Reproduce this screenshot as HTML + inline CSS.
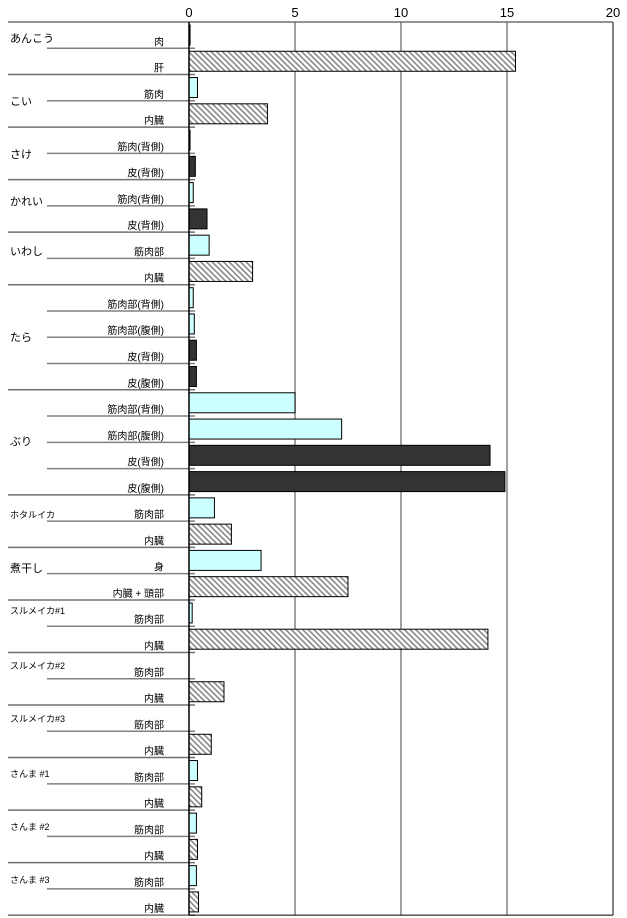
<!DOCTYPE html>
<html><head><meta charset="utf-8">
<style>
html,body{margin:0;padding:0;background:#fff;}
svg{display:block;font-family:"Liberation Sans","Noto Sans CJK JP",sans-serif;}
</style></head>
<body>
<svg id="chart" width="627" height="918" viewBox="0 0 627 918">
<defs>
<pattern id="hatch" patternUnits="userSpaceOnUse" width="4" height="4" patternTransform="rotate(-45)">
<rect width="4" height="4" fill="#fff"/>
<rect width="1.6" height="4" fill="#888"/>
</pattern>
</defs>
</svg>
<script>
const groupNames = ["あんこう","こい","さけ","かれい","いわし","たら","ぶり","ホタルイカ","煮干し","スルメイカ#1","スルメイカ#2","スルメイカ#3","さんま #1","さんま #2","さんま #3"];
const groupSizes = [2,2,2,2,2,4,4,2,2,2,2,2,2,2,2];
const groupLabelY = [38,101,154,201,251,337,441,514,568,610,665,718,773,826,879];
const itemLabels = ["肉","肝","筋肉","内臓","筋肉(背側)","皮(背側)","筋肉(背側)","皮(背側)","筋肉部","内臓","筋肉部(背側)","筋肉部(腹側)","皮(背側)","皮(腹側)","筋肉部(背側)","筋肉部(腹側)","皮(背側)","皮(腹側)","筋肉部","内臓","身","内臓 + 頭部","筋肉部","内臓","筋肉部","内臓","筋肉部","内臓","筋肉部","内臓","筋肉部","内臓","筋肉部","内臓"];
const itemTypes = ["m","v","m","v","m","s","m","s","m","v","m","m","s","s","m","m","s","s","m","v","m","v","m","v","m","v","m","v","m","v","m","v","m","v"];
const values = [0.05,15.4,0.4,3.7,0.05,0.3,0.2,0.85,0.95,3.0,0.2,0.25,0.35,0.35,5.0,7.2,14.2,14.9,1.2,2.0,3.4,7.5,0.15,14.1,0,1.65,0,1.05,0.4,0.6,0.35,0.4,0.35,0.45];
const xTicks = [0,5,10,15,20];

const svg = document.getElementById('chart');
const NS = 'http://www.w3.org/2000/svg';
const X0 = 189, X1 = 613, Y0 = 22, ROW = 26.27;
const xScale = v => X0 + (X1 - X0) * v / 20;
const rowTop = i => Y0 + i * ROW;
function mk(tag, attrs, parent) {
  const e = document.createElementNS(NS, tag);
  for (const k in attrs) e.setAttribute(k, attrs[k]);
  (parent || svg).appendChild(e);
  return e;
}
const nRows = values.length;
const yBottom = rowTop(nRows);

xTicks.forEach(t => {
  if (t === 0) return;
  const g = mk('line', {x1: xScale(t), x2: xScale(t), y1: Y0, y2: yBottom, stroke: t === 20 ? '#000' : '#808080', 'stroke-width': t === 20 ? 1 : 1.5});
  
  
});
xTicks.forEach(t => {
  const tx = mk('text', {x: xScale(t), y: 17, 'font-size': 13, 'text-anchor': 'middle', fill: '#000'});
  tx.textContent = t;
  
  
});
const ax = mk('line', {x1: 8, x2: X1, y1: Y0, y2: Y0, stroke: '#555', 'stroke-width': 1.2});



let idx = 0;
const groupStart = [];
groupSizes.forEach(s => { groupStart.push(idx); idx += s; });
for (let i = 1; i <= nRows; i++) {
  const isGroup = groupStart.includes(i) || i === nRows;
  const ln = mk('line', {x1: isGroup ? 8 : 47, x2: 195, y1: rowTop(i), y2: rowTop(i), stroke: isGroup ? '#707070' : '#808080', 'stroke-width': 1.5});
  
  
}
const bl = mk('line', {x1: X0, x2: X1, y1: yBottom, y2: yBottom, stroke: '#000', 'stroke-width': 1});



groupNames.forEach((n, g) => {
  const t = mk('text', {x: 10, y: groupLabelY[g] + 4, 'font-size': n.length > 4 ? 9 : 11, fill: '#000'});
  t.textContent = n;
  
  
});
const fills = {m: '#ccffff', v: 'url(#hatch)', s: '#333333'};
values.forEach((v, i) => {
  const t = mk('text', {x: 164, y: rowTop(i + 1) - 3, 'font-size': 10, 'text-anchor': 'end', fill: '#000'});
  t.textContent = itemLabels[i];
  
  
  if (v > 0) {
    const w = xScale(v) - X0;
    const r = mk('rect', {x: X0, y: rowTop(i) + 3, width: Math.max(w, 1), height: 20, fill: fills[itemTypes[i]], stroke: '#000', 'stroke-width': 1});
    
    
  }
});
const za = mk('line', {x1: X0, x2: X0, y1: Y0, y2: yBottom, stroke: '#000', 'stroke-width': 1.5});


</script>
</body></html>
